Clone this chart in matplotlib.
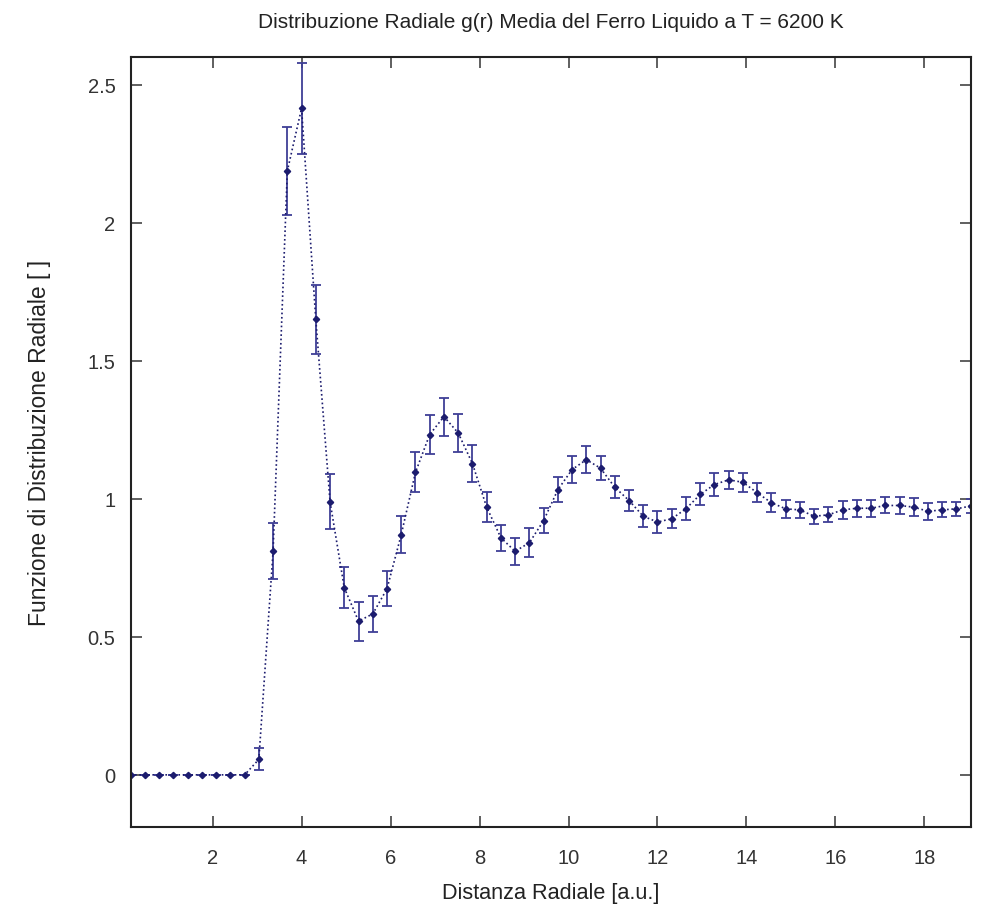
import matplotlib
matplotlib.use("Agg")
import matplotlib.pyplot as plt
from matplotlib import font_manager
from matplotlib.ticker import FormatStrFormatter, FixedLocator
import numpy as np

# radial bins (centres), dr = 0.32
r = 0.16 + 0.32 * np.arange(60)

g = [0, 0, 0, 0, 0, 0, 0, 0, 0, 0.056,
     0.810, 2.188, 2.415, 1.650, 0.990, 0.678, 0.557, 0.583, 0.674, 0.870,
     1.096, 1.233, 1.298, 1.239, 1.128, 0.970, 0.859, 0.810, 0.841, 0.921,
     1.033, 1.106, 1.142, 1.111, 1.042, 0.994, 0.937, 0.916, 0.928, 0.964,
     1.016, 1.052, 1.069, 1.060, 1.022, 0.986, 0.964, 0.960, 0.937, 0.942,
     0.960, 0.966, 0.966, 0.976, 0.976, 0.970, 0.955, 0.960, 0.964, 0.974]

g_err = [0, 0, 0, 0, 0, 0, 0, 0, 0, 0.040,
         0.102, 0.160, 0.166, 0.125, 0.100, 0.074, 0.071, 0.066, 0.064, 0.067,
         0.072, 0.071, 0.069, 0.070, 0.066, 0.055, 0.048, 0.049, 0.052, 0.046,
         0.045, 0.050, 0.050, 0.044, 0.040, 0.038, 0.039, 0.040, 0.034, 0.042,
         0.040, 0.043, 0.032, 0.035, 0.034, 0.034, 0.032, 0.028, 0.027, 0.027,
         0.034, 0.030, 0.030, 0.029, 0.030, 0.032, 0.030, 0.027, 0.025, 0.025]

xticks = [2, 4, 6, 8, 10, 12, 14, 16, 18]
yticks = [0, 0.5, 1, 1.5, 2, 2.5]

installed = {f.name for f in font_manager.fontManager.ttflist}
narrow = "Liberation Sans Narrow" if "Liberation Sans Narrow" in installed else "Liberation Sans"
plt.rcParams['font.family'] = ['Liberation Sans', 'DejaVu Sans']

navy = '#1c1c6e'
bar_col = '#3f3f96'

fig = plt.figure(figsize=(9.85, 9.12), dpi=100)
ax = fig.add_axes([0.1327, 0.0918, 0.8528, 0.8443])

ax.errorbar(r, g, yerr=g_err, fmt='none', ecolor=bar_col, elinewidth=1.3,
            capsize=3.8, capthick=1.3)
ax.plot(r, g, linestyle=(0, (1, 1.6)), color=navy, linewidth=1.2)
ax.plot(r, g, linestyle='none', marker='D', markersize=3.2, color=navy)

ax.set_xlim(r[0], r[-1])
ax.set_ylim(-0.19, 2.6)
ax.xaxis.set_major_locator(FixedLocator(xticks))
ax.yaxis.set_major_locator(FixedLocator(yticks))
ax.yaxis.set_major_formatter(FormatStrFormatter('%g'))

ax.tick_params(direction='in', length=8, width=1.2, top=True, right=True,
               labelsize=14.5, labelcolor='#333333', color='#444444')
ax.tick_params(axis='x', pad=15)
ax.tick_params(axis='y', pad=11)
for s in ax.spines.values():
    s.set_linewidth(1.5)
    s.set_color('#222222')

ax.set_title('Distribuzione Radiale g(r) Media del Ferro Liquido a T = 6200 K',
             fontsize=15, family=narrow, color='#222222', pad=22)
ax.set_xlabel('Distanza Radiale [a.u.]', fontsize=15.6, family=narrow,
              color='#222222', labelpad=11)
ax.set_ylabel('Funzione di Distribuzione Radiale [ ]', fontsize=16.5, family=narrow,
              color='#222222', labelpad=26)

fig.savefig('out.png', dpi=100)
